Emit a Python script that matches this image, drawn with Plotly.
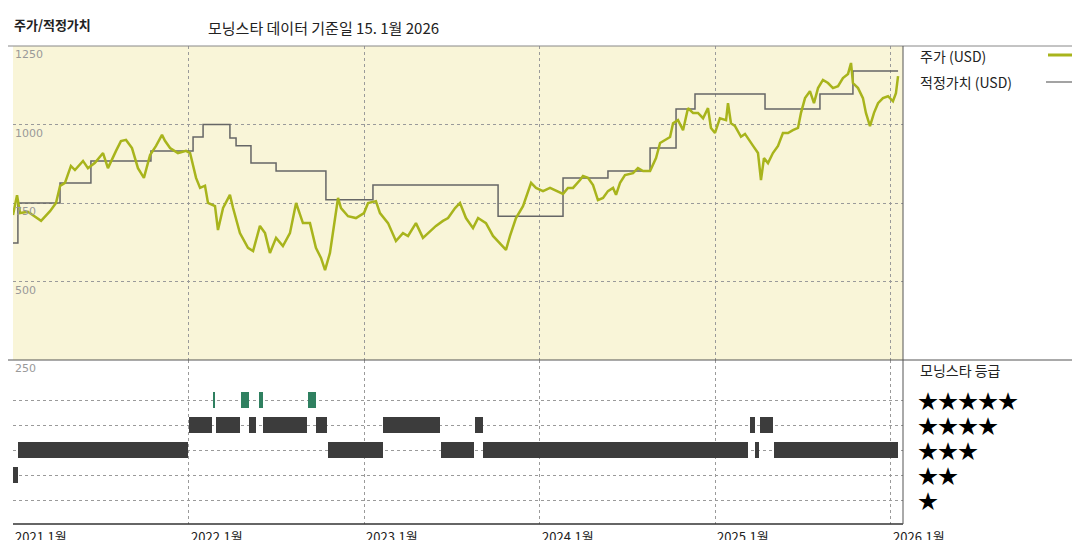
import plotly.graph_objects as go
import pandas as pd

# price (decimal year, USD)
price_t = [2021.000,2021.023,2021.040,2021.085,2021.160,2021.211,2021.245,2021.268,2021.296,2021.330,2021.353,2021.399,2021.427,2021.467,2021.513,2021.541,2021.587,2021.615,2021.644,2021.678,2021.712,2021.746,2021.781,2021.815,2021.849,2021.866,2021.895,2021.940,2021.986,
2022.009,2022.043,2022.066,2022.094,2022.111,2022.151,2022.168,2022.197,2022.236,2022.254,2022.293,2022.339,2022.368,2022.407,2022.436,2022.464,2022.499,2022.538,2022.578,2022.613,2022.652,2022.692,2022.726,2022.755,2022.778,2022.806,2022.823,2022.852,2022.869,2022.909,2022.954,
2023.000,2023.023,2023.068,2023.091,2023.137,2023.182,2023.222,2023.251,2023.296,2023.336,2023.365,2023.410,2023.450,2023.479,2023.519,2023.547,2023.581,2023.621,2023.650,2023.695,2023.735,2023.775,2023.809,2023.832,2023.866,2023.906,2023.952,2023.980,
2024.020,2024.060,2024.105,2024.134,2024.162,2024.191,2024.231,2024.248,2024.276,2024.305,2024.333,2024.362,2024.390,2024.419,2024.436,2024.459,2024.487,2024.533,2024.561,2024.590,2024.630,2024.664,2024.687,2024.715,2024.744,2024.761,2024.789,2024.818,2024.846,2024.875,2024.903,2024.932,2024.960,2024.977,
2025.000,2025.028,2025.063,2025.074,2025.091,2025.114,2025.148,2025.171,2025.188,2025.217,2025.245,2025.262,2025.279,2025.302,2025.330,2025.359,2025.387,2025.416,2025.444,2025.473,2025.490,2025.513,2025.541,2025.564,2025.587,2025.615,2025.644,2025.672,2025.701,2025.729,2025.758,2025.775,2025.786,2025.815,2025.843,2025.860,2025.883,2025.906,2025.929,2025.957,2025.986,2026.014,2026.031,2026.043]
price_v = [712,775,718,722,693,724,750,804,814,868,855,884,861,878,909,861,916,947,951,925,861,830,903,932,967,948,925,909,916,
909,830,798,805,750,740,664,734,776,734,654,607,597,677,654,591,639,613,654,750,686,686,607,575,536,591,654,766,734,708,702,
718,750,756,718,686,629,654,645,686,639,654,677,693,702,734,750,702,670,702,686,645,623,601,645,702,740,814,798,
788,798,788,779,798,798,823,836,830,807,759,766,788,798,776,814,839,845,861,852,852,893,941,951,960,1004,1014,982,1052,1037,1037,1020,1052,989,
973,1020,1014,1068,1004,995,961,970,957,932,909,823,893,877,909,932,973,973,982,989,1037,1084,1106,1068,1116,1142,1132,1116,1122,1148,1161,1196,1132,1116,1084,1037,995,1037,1068,1084,1090,1074,1100,1154]

# fair value steps
fv_t = [2021.000,2021.028,2021.268,2021.444,2021.786,2022.026,2022.083,2022.236,2022.271,2022.356,2022.499,2022.783,2023.051,2023.764,2024.134,2024.390,2024.630,2024.778,2024.886,2025.285,2025.598,2025.786,2026.043]
fv_v = [623,750,814,884,916,960,1000,957,932,877,852,760,807,708,830,852,925,1049,1097,1049,1097,1170,1170]

# star ratings periods
rt_start = [2021.000,2021.028,2022.003,2022.140,2022.157,2022.299,2022.345,2022.402,2022.425,2022.681,2022.726,2022.795,2023.108,2023.439,2023.632,2023.678,2025.199,2025.228,2025.256,2025.336]
rt_end   = [2021.028,2021.997,2022.134,2022.146,2022.293,2022.345,2022.385,2022.425,2022.675,2022.726,2022.789,2023.108,2023.433,2023.627,2023.678,2025.188,2025.228,2025.251,2025.330,2026.043]
rt_star  = [2,3,4,5,4,5,4,5,4,5,4,3,4,3,4,3,4,3,4,3]

year_ticks = [2021, 2022, 2023, 2024, 2025, 2026]
y_ticks = [1250, 1000, 750, 500, 250]

def dt(t):
    return pd.Timestamp("2021-01-01") + pd.Timedelta(days=(t - 2021) * 365.25)

FONT = "Noto Sans CJK KR, Noto Sans, sans-serif"
fig = go.Figure()

fig.add_trace(go.Scatter(x=[dt(t) for t in fv_t], y=fv_v, mode="lines", line=dict(color="#666666", width=1.5, shape="hv"), xaxis="x", yaxis="y"))
fig.add_trace(go.Scatter(x=[dt(t) for t in price_t], y=price_v, mode="lines", line=dict(color="#a8b41c", width=2.5), xaxis="x", yaxis="y"))

for s, e, st in zip(rt_start, rt_end, rt_star):
    a, b = dt(s), dt(e)
    w = max((b - a).total_seconds() * 1000, 2 * 86400000)
    fig.add_trace(go.Bar(x=[a + (b - a) / 2], y=[0.64], base=[st - 0.32], width=[w],
                         marker=dict(color="#2f8060" if st == 5 else "#3c3c3c", line=dict(width=0)),
                         xaxis="x2", yaxis="y2"))

x0, x1 = 5 / 1080, 895 / 1080
xr = [dt(2021.0), dt(2021 + 890 / 175.5)]
grid = dict(showgrid=True, gridcolor="#9a9a9a", griddash="dot", gridwidth=1, showticklabels=False, ticks="", zeroline=False)
fig.update_layout(
    width=1080, height=540, margin=dict(l=0, r=0, t=0, b=0),
    paper_bgcolor="white", plot_bgcolor="white", showlegend=False, bargap=0,
    font=dict(family=FONT, color="#222"),
    xaxis=dict(domain=[x0, x1], range=xr, anchor="y", tickvals=[dt(y) for y in year_ticks], **grid),
    xaxis2=dict(domain=[x0, x1], range=xr, anchor="y2", tickvals=[dt(y) for y in year_ticks], **grid),
    yaxis=dict(domain=[1 - 352 / 540, 1 - 38 / 540], range=[250, 1250], tickvals=y_ticks, **grid),
    yaxis2=dict(domain=[1 - 516 / 540, 1 - 352 / 540], range=[0.04, 6.6], tickvals=[1, 2, 3, 4, 5], **grid),
)

shapes = [
    dict(type="rect", xref="x domain", yref="y domain", x0=0, x1=1, y0=0, y1=1, fillcolor="#f9f5d8", line=dict(width=0), layer="below"),
    dict(type="line", xref="paper", yref="paper", x0=0, x1=1, y0=1 - 38 / 540, y1=1 - 38 / 540, line=dict(color="#888", width=1)),
    dict(type="line", xref="paper", yref="paper", x0=0, x1=1, y0=1 - 352 / 540, y1=1 - 352 / 540, line=dict(color="#555", width=1)),
    dict(type="line", xref="paper", yref="paper", x0=x0, x1=x1, y0=1 - 516 / 540, y1=1 - 516 / 540, line=dict(color="#333", width=1.5)),
    dict(type="line", xref="paper", yref="paper", x0=x1, x1=x1, y0=1 - 516 / 540, y1=1 - 38 / 540, line=dict(color="#555", width=1)),
    dict(type="line", xref="paper", yref="paper", x0=1040 / 1080, x1=1070 / 1080, y0=1 - 47 / 540, y1=1 - 47 / 540, line=dict(color="#a8b41c", width=3)),
    dict(type="line", xref="paper", yref="paper", x0=1038 / 1080, x1=1070 / 1080, y0=1 - 74 / 540, y1=1 - 74 / 540, line=dict(color="#666", width=1.2)),
]
fig.update_layout(shapes=shapes)

ann = []
def A(text, x, y, size=13, color="#222", xa="left", ya="middle", **kw):
    ann.append(dict(text=text, x=x / 1080, y=1 - y / 540, xref="paper", yref="paper", xanchor=xa, yanchor=ya,
                    showarrow=False, font=dict(size=size, color=color, family=FONT), **kw))
A("<b>주가/적정가치</b>", 4, 16, size=13)
A("모닝스타 데이터 기준일 15. 1월 2026", 198, 20, size=15)
A("주가 (USD)", 910, 48, size=14)
A("적정가치 (USD)", 910, 74, size=14)
A("모닝스타 등급", 910, 362, size=14)
for i, n in enumerate([5, 4, 3, 2, 1]):
    A("★" * n, 908, 392 + 25 * i, size=20, color="#000")
for v in y_ticks:
    ann.append(dict(text=str(v), x=x0, y=v, xref="paper", yref="y" if v > 250 else "y2", xanchor="left", yanchor="top",
                    showarrow=False, font=dict(size=11, color="#999", family="DejaVu Sans")))
ann[-1]["y"] = 6.6
for y in year_ticks:
    ann.append(dict(text=f"{y},1월", x=dt(y), y=0, xref="x2", yref="paper", xanchor="left", yanchor="bottom",
                    showarrow=False, font=dict(size=13, color="#222", family=FONT)))
fig.update_layout(annotations=ann)

fig.write_html("out.html")
